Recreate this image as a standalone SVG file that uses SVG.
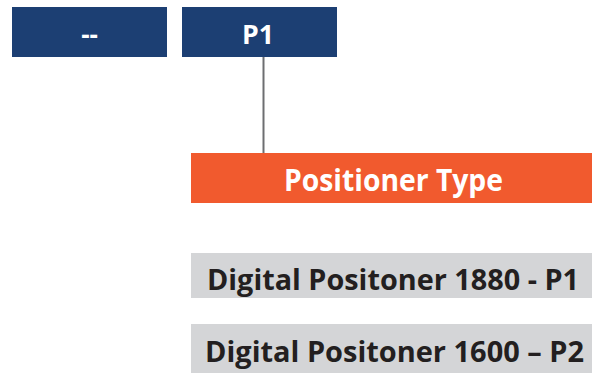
<svg xmlns="http://www.w3.org/2000/svg" width="592" height="373" viewBox="0 0 592 373">
<style>
.navy{fill:#1c3f73}
.orange{fill:#f15a2e}
.gray{fill:#d4d5d7}
.t{font-family:"Open Sans","Liberation Sans",sans-serif;font-weight:bold;text-anchor:middle}
.w{fill:#ffffff}
.d{fill:#231f20}
</style>
<rect width="592" height="373" fill="#ffffff"/>
<g id="connectors">
<line x1="263.5" y1="55" x2="263.5" y2="153" stroke="#6d6e71" stroke-width="2"/>
</g>
<g id="node-dash">
<rect class="navy" x="12" y="7" width="155" height="50"/>
<text class="t w" x="89.5" y="44" font-size="26">--</text>
</g>
<g id="node-p1">
<rect class="navy" x="182" y="7" width="155" height="50"/>
<text class="t w" x="258" y="44" font-size="27" textLength="32" lengthAdjust="spacingAndGlyphs">P1</text>
</g>
<g id="node-type">
<rect class="orange" x="191" y="153" width="401" height="50"/>
<text class="t w" x="393.5" y="191" font-size="30" textLength="219" lengthAdjust="spacingAndGlyphs">Positioner Type</text>
</g>
<g id="node-p1-option">
<rect class="gray" x="191" y="253" width="401" height="45"/>
<text class="t d" x="393" y="290" font-size="29" textLength="372" lengthAdjust="spacingAndGlyphs">Digital Positoner 1880 - P1</text>
</g>
<g id="node-p2-option">
<rect class="gray" x="191" y="324" width="401" height="49"/>
<text class="t d" x="394.5" y="362" font-size="29" textLength="379" lengthAdjust="spacingAndGlyphs">Digital Positoner 1600 – P2</text>
</g>
</svg>
